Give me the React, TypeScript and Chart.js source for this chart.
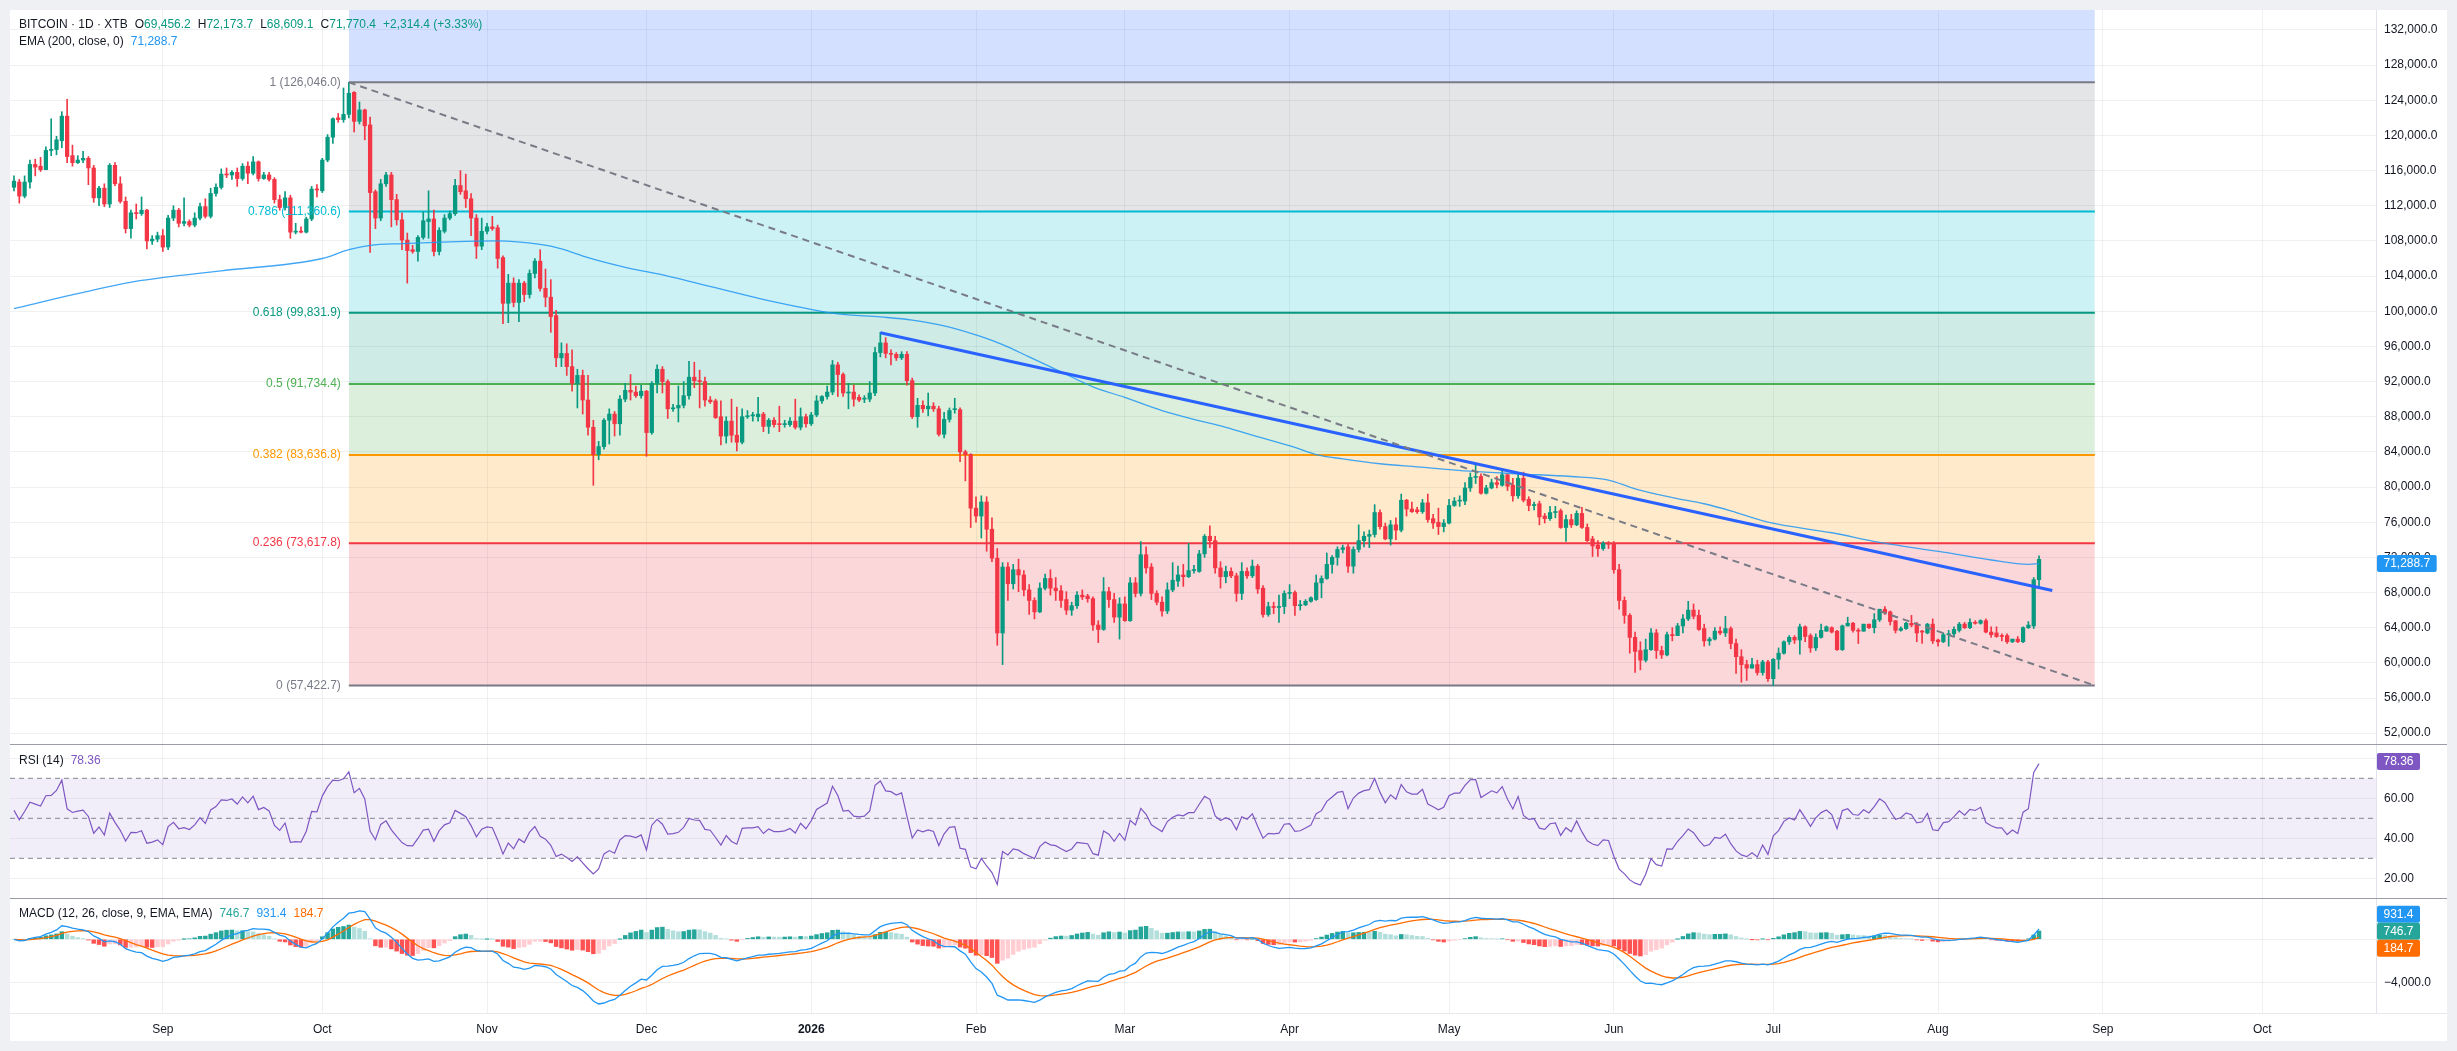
import React, { useEffect, useRef } from "react";
import { Chart, registerables } from "chart.js";

Chart.register(...registerables);

// ---------------- DATA ----------------
// Daily candles, first candle = 2025-08-04 (index 0), last = 2026-08-20 (index 381). Prices in thousands USD.
const opens = [
  114.1,114.7,113.1,114.7,116.7,116.5,116.1,118.3,118.4,119.4,
  122.2,117.7,116.9,117.2,117.4,116.3,112.9,114.0,112.2,116.6,
  114.5,112.5,109.4,111.2,111.1,111.5,108.0,108.2,108.6,107.3,
  110.6,111.5,110.0,110.2,109.8,110.6,111.9,110.8,113.4,114.1,
  115.6,115.5,115.8,115.1,116.5,115.7,117.0,115.1,115.5,115.0,
  112.7,111.8,112.9,109.0,109.1,109.0,110.5,113.9,113.7,117.2,
  119.8,122.0,121.8,122.4,124.9,121.6,122.9,121.2,113.6,110.6,
  114.5,115.5,112.7,110.4,108.1,107.0,106.8,108.4,110.2,110.5,
  106.8,109.1,110.6,111.1,114.3,113.7,112.8,110.6,107.4,109.1,
  109.6,109.5,106.1,100.9,103.2,101.0,103.2,101.9,104.3,105.7,
  102.6,101.6,99.5,94.7,95.2,93.7,91.8,92.7,89.9,86.8,
  83.7,84.6,87.6,88.3,87.2,90.0,91.0,90.8,90.4,90.9,
  86.2,91.8,93.4,92.0,88.9,89.0,89.3,90.4,92.5,92.1,
  92.0,89.9,89.8,88.0,85.8,87.5,85.9,85.1,88.0,88.1,
  88.0,88.3,86.9,87.6,87.2,87.1,87.1,87.5,86.8,88.0,
  87.2,88.2,89.8,90.3,90.8,93.9,92.8,90.7,90.8,90.2,
  90.0,90.0,90.7,95.3,96.4,95.2,95.1,94.7,95.1,92.1,
  88.0,89.3,88.9,89.2,88.9,86.0,87.7,88.8,88.8,84.0,
  83.7,77.6,76.7,78.3,75.2,71.9,63.4,70.9,69.0,70.6,
  70.0,68.3,67.1,65.8,68.5,69.6,68.5,68.2,67.2,66.0,
  66.5,67.7,67.6,67.3,64.3,63.8,68.1,67.2,65.2,66.7,
  64.8,69.1,67.9,72.3,70.9,67.9,66.9,65.9,68.3,69.3,
  70.0,69.8,70.5,70.4,72.4,74.4,73.9,70.8,69.8,70.4,
  69.9,67.9,70.4,69.9,71.0,68.5,65.5,66.4,66.3,66.4,
  67.9,68.0,66.5,66.6,67.0,67.2,69.1,69.6,71.2,72.0,
  72.9,73.2,71.0,72.9,73.9,74.4,74.6,77.1,75.5,74.1,
  75.7,75.1,78.5,77.5,77.4,77.2,78.2,76.4,76.0,75.5,
  75.9,77.9,78.4,78.4,79.9,81.1,81.2,79.3,79.9,80.5,
  80.2,81.4,80.2,79.0,81.0,78.6,77.9,78.1,76.7,76.4,
  77.1,77.3,75.4,76.3,75.7,77.0,75.4,74.1,73.4,73.0,
  73.6,73.6,70.6,67.1,65.4,62.9,61.4,60.3,61.5,63.4,
  61.4,60.9,63.2,63.1,64.2,65.0,66.0,65.4,63.9,62.5,
  62.7,63.6,63.4,63.9,62.2,60.7,59.8,59.4,59.8,58.9,
  60.1,58.2,60.4,61.1,62.4,62.9,62.6,64.1,63.1,61.7,
  62.9,63.6,64.0,63.6,61.5,64.2,64.5,63.7,63.6,64.4,
  64.0,64.9,66.1,65.8,64.8,63.7,63.9,64.5,64.4,63.6,
  63.4,64.4,62.6,62.4,63.2,63.3,63.7,64.4,64.0,64.6,
  64.5,64.8,63.5,63.4,63.1,63.1,62.4,62.7,62.4,64.0,
  64.2,69.4562,
];
const highs = [
  115.4,115.0,115.4,117.2,117.3,117.5,118.7,121.9,119.9,122.7,
  124.1,118.9,117.7,118.2,117.6,116.6,114.2,114.5,116.8,116.9,
  115.3,113.0,111.5,112.2,113.0,111.6,108.6,109.0,109.3,110.9,
  112.0,111.7,112.9,110.4,111.2,112.3,112.8,114.0,114.5,116.2,
  116.3,116.0,116.3,116.8,117.0,117.6,117.1,115.8,115.8,115.2,
  113.2,113.6,113.2,110.0,109.6,110.7,114.2,114.4,117.4,120.1,
  122.0,122.5,125.4,126.046,125.0,123.8,123.0,122.1,113.8,115.0,
  115.8,115.8,113.3,111.2,108.9,107.5,108.6,111.3,113.7,111.5,
  109.5,111.0,111.4,115.0,116.0,115.6,113.4,111.0,110.6,110.0,
  110.8,109.8,106.3,104.2,103.8,103.6,103.4,104.7,106.0,107.0,
  104.8,103.6,100.1,96.4,96.3,95.6,93.4,93.3,92.7,87.6,
  85.2,87.8,88.9,88.6,90.4,91.8,92.8,91.5,91.6,91.0,
  92.0,93.9,93.7,92.2,89.4,91.5,92.0,94.3,94.2,93.3,
  92.5,90.3,90.0,89.8,88.0,90.0,89.1,88.9,88.7,88.5,
  90.2,88.5,87.8,87.9,89.2,87.6,87.9,90.0,89.0,88.3,
  88.5,90.4,90.4,91.5,94.4,94.2,93.0,91.8,91.6,90.5,
  90.4,92.0,95.9,97.6,97.0,95.6,95.3,95.4,95.4,92.4,
  90.1,89.8,90.7,89.6,89.2,88.5,89.0,90.1,89.0,84.2,
  83.8,78.9,79.0,78.9,76.5,73.0,71.4,71.4,71.2,71.8,
  70.5,68.9,67.4,69.1,70.1,70.6,69.7,68.8,68.1,66.9,
  68.1,68.3,67.8,67.5,64.8,69.7,68.6,67.9,67.4,67.5,
  69.7,69.7,73.8,73.2,71.3,68.2,67.5,69.1,71.4,71.0,
  71.2,73.6,71.1,72.8,74.6,75.6,74.4,71.5,71.0,70.8,
  70.2,71.4,70.8,71.7,71.2,68.8,66.9,66.9,67.7,68.2,
  68.9,68.2,67.1,67.2,67.5,70.0,69.9,72.5,72.2,73.2,
  73.4,73.5,73.2,75.7,74.9,75.1,78.0,77.4,75.9,76.2,
  76.5,79.2,78.6,78.3,77.7,78.6,79.2,76.9,77.6,76.3,
  78.6,78.8,79.0,80.5,81.6,82.5,81.5,80.2,80.9,81.2,
  82.1,81.5,81.0,81.6,81.7,78.9,78.3,78.4,77.0,77.8,
  77.8,77.5,76.8,76.9,77.3,77.7,75.8,74.4,73.9,73.8,
  73.8,73.8,71.2,67.5,65.6,63.5,62.4,62.7,63.9,63.8,
  61.9,63.5,64.0,64.5,65.5,67.0,66.7,66.0,64.4,62.9,
  64.0,64.1,65.3,64.1,62.7,61.5,60.3,60.5,60.3,60.3,
  60.3,60.5,61.7,62.5,63.1,63.1,64.4,64.2,63.3,63.3,
  64.4,64.2,64.1,63.7,64.3,65.2,64.6,63.9,64.4,64.4,
  65.6,66.1,66.4,65.9,64.8,64.1,64.6,65.4,64.6,63.7,
  64.5,65.0,62.7,63.4,63.7,64.1,64.6,64.6,65.0,64.8,
  64.9,65.0,64.1,64.1,63.3,63.3,62.7,63.0,64.1,64.7,
  69.7,72.1737,
];
const lows = [
  113.7,112.3,112.9,114.0,115.4,115.9,116.1,117.7,117.8,118.6,
  116.9,116.5,116.8,116.9,114.4,112.4,112.0,111.9,111.8,114.3,
  112.3,108.9,108.3,110.5,110.9,107.1,107.6,107.9,106.8,107.0,
  110.3,109.6,109.7,109.6,109.6,110.4,110.6,110.6,113.1,113.9,
  115.2,115.0,114.2,114.9,114.5,115.5,114.8,115.0,114.8,112.3,
  111.5,111.5,108.3,108.8,108.9,108.9,110.3,113.0,113.5,117.0,
  119.1,121.5,121.5,122.0,120.4,121.3,119.5,106.7,109.4,110.3,
  114.2,109.6,109.8,107.0,103.2,106.6,105.7,108.2,108.3,106.3,
  106.4,108.9,110.4,110.9,113.3,111.8,108.6,106.0,107.0,108.8,
  109.2,104.9,98.6,98.7,100.5,98.8,101.1,101.5,103.8,102.3,
  100.5,97.6,93.7,93.7,92.7,90.9,89.0,88.3,85.9,80.2,
  83.1,84.3,84.9,85.8,85.9,89.7,89.9,90.2,90.1,83.5,
  86.0,90.7,90.7,87.8,88.6,87.4,89.0,90.0,91.3,89.0,
  89.2,89.5,87.8,84.8,85.0,85.1,84.1,84.9,87.8,87.5,
  87.5,86.3,86.1,86.8,86.3,86.8,86.9,86.6,86.5,86.8,
  87.0,88.0,89.5,90.0,90.5,90.3,90.3,88.9,89.2,89.7,
  89.6,89.7,90.4,94.8,94.7,93.9,94.4,94.5,91.6,87.8,
  86.8,88.5,88.1,88.6,85.8,85.6,87.4,88.4,82.9,80.7,
  75.4,76.0,74.2,72.7,71.5,62.0,59.8,67.1,68.4,68.1,
  67.6,65.5,65.0,65.7,68.3,67.7,67.1,66.3,65.5,65.4,
  66.2,67.2,66.9,63.7,62.3,63.7,66.3,64.6,62.7,64.7,
  64.7,67.5,67.6,70.2,67.2,66.6,65.3,65.6,68.1,68.7,
  68.7,69.7,70.2,70.3,72.0,73.1,70.2,68.5,69.1,69.7,
  67.0,67.2,69.6,69.7,67.9,65.2,65.3,65.6,64.6,65.6,
  67.3,65.4,66.0,66.5,66.9,67.1,67.4,69.5,70.2,71.1,
  72.5,70.3,70.2,72.6,73.2,73.1,74.3,75.2,74.0,73.4,
  74.0,74.9,76.7,77.1,77.0,77.0,76.0,75.3,74.6,74.9,
  75.8,77.8,77.8,78.0,79.5,80.4,79.2,79.2,79.8,79.9,
  80.1,79.6,78.4,78.7,78.3,77.3,77.4,75.7,75.9,76.2,
  76.5,75.3,73.8,75.4,75.6,75.3,73.8,72.1,72.1,72.8,
  73.0,70.2,66.1,64.5,61.1,58.9,59.2,60.1,61.4,60.5,
  60.5,60.8,62.5,63.1,63.4,64.8,65.0,63.7,61.9,62.0,
  62.6,63.2,63.0,61.6,58.8,57.8,58.0,59.4,58.6,58.6,
  57.9,57.4,59.3,61.0,62.1,62.2,61.0,62.4,61.2,61.4,
  62.8,63.6,63.4,61.4,61.4,64.2,63.5,62.2,63.6,63.9,
  63.4,64.7,65.5,64.3,63.4,63.6,63.8,64.1,62.4,62.2,
  63.3,62.2,61.9,62.3,61.9,63.0,63.5,63.9,63.9,64.4,
  64.4,63.4,62.9,62.9,62.5,62.2,62.3,62.3,62.3,63.9,
  63.9,68.6091,
];
const closes = [
  114.8,113.1,114.7,116.7,116.4,116.1,118.3,118.4,119.5,122.2,
  117.6,116.9,117.2,117.4,116.3,112.9,114.0,112.2,116.6,114.5,
  112.5,109.4,111.2,111.1,111.5,108.0,108.2,108.6,107.3,110.6,
  111.5,110.0,110.2,109.8,110.6,111.9,110.8,113.4,114.1,115.6,
  115.5,115.8,115.1,116.5,115.7,117.0,115.1,115.5,115.0,112.7,
  111.8,112.9,109.0,109.1,109.0,110.5,113.9,113.8,117.2,119.8,
  121.9,121.8,122.4,124.8,121.6,122.9,121.1,113.5,110.6,114.5,
  115.5,112.7,110.4,108.1,106.9,106.8,108.4,110.3,110.5,106.8,
  109.2,110.6,111.1,114.3,113.6,112.8,110.6,107.4,109.1,109.6,
  109.4,106.0,100.9,103.2,101.0,103.2,101.9,104.3,105.7,102.6,
  101.6,99.4,94.7,95.2,93.7,91.8,92.7,89.9,86.8,83.7,
  84.6,87.6,88.3,87.2,90.0,91.0,90.8,90.4,90.9,86.2,
  91.8,93.4,92.0,88.9,89.0,89.3,90.4,92.5,92.1,92.0,
  89.9,89.7,87.9,85.8,87.5,85.9,85.1,88.0,88.1,88.1,
  88.3,86.9,87.6,87.1,87.1,87.2,87.5,86.8,88.0,87.2,
  88.2,89.8,90.3,90.8,93.9,92.8,90.7,90.8,90.0,89.9,
  90.0,90.7,95.3,96.4,95.2,95.1,94.7,95.1,92.1,88.0,
  89.3,88.9,89.2,88.9,86.0,87.7,88.7,88.8,84.0,83.7,
  77.6,76.7,78.3,75.2,71.9,63.4,70.9,69.0,70.6,70.0,
  68.3,67.1,65.8,68.5,69.6,68.5,68.2,67.1,66.0,66.5,
  67.7,67.5,67.3,64.3,63.8,68.1,67.2,65.2,66.7,64.8,
  69.1,67.9,72.3,70.8,67.9,66.9,65.9,68.3,69.4,70.0,
  69.8,70.5,70.5,72.4,74.4,73.9,70.8,69.8,70.4,69.9,
  67.9,70.4,69.9,71.0,68.4,65.5,66.4,66.3,66.4,67.9,
  68.0,66.5,66.6,67.0,67.4,69.1,69.6,71.2,72.0,72.9,
  73.1,71.0,72.9,73.9,74.4,74.6,77.1,75.5,74.1,75.7,
  75.1,78.5,77.5,77.2,77.2,78.2,76.3,75.9,75.5,75.9,
  77.9,78.4,78.4,79.9,81.1,81.2,79.3,79.9,80.5,80.3,
  81.4,80.1,79.0,81.0,78.5,77.9,78.0,76.6,76.4,77.1,
  77.2,75.4,76.3,75.7,77.0,75.4,73.9,73.3,73.0,73.6,
  73.5,70.6,67.1,65.4,62.9,61.3,60.3,61.5,63.4,61.4,
  60.9,63.2,63.1,64.2,65.0,66.0,65.3,63.8,62.5,62.7,
  63.6,63.4,63.9,62.2,60.7,59.8,59.4,59.8,58.9,60.1,
  58.2,60.4,61.1,62.4,62.9,62.6,64.1,63.0,61.7,62.9,
  63.7,64.1,63.5,61.5,64.2,64.5,63.7,63.6,64.4,64.0,
  64.9,66.1,65.7,64.7,63.7,63.9,64.5,64.3,63.4,63.5,
  64.4,62.5,62.4,63.2,63.3,63.8,64.4,64.0,64.6,64.5,
  64.8,63.5,63.2,63.0,63.0,62.4,62.7,62.4,64.0,64.3,
  69.456,71.7704,
];

// EMA(200) at sample candles (thousands USD)
const emaIdx = [0, 12, 24, 39, 58, 63, 67, 73, 82, 91, 99, 103, 108, 115, 123, 142, 155, 163, 169, 176, 182, 186, 191, 197, 203, 209, 216, 222, 228, 233, 241, 245, 250, 257, 264, 274, 283, 293, 300, 305, 312, 318, 323, 330, 342, 351, 363, 372, 379, 381];
const emaVals = [100.3, 102.0, 103.5, 104.6, 106.0, 107.0, 107.5, 107.7, 107.9, 108.0, 107.6, 107.1, 106.1, 105.0, 104.0, 101.2, 99.7, 99.35, 99.0, 98.2, 97.1, 96.2, 94.8, 93.1, 91.4, 90.2, 88.7, 87.7, 86.8, 85.9, 84.5, 83.7, 83.2, 82.65, 82.3, 81.8, 81.5, 81.2, 80.8, 79.8, 78.8, 78.1, 77.3, 76.0, 74.8, 73.7, 72.6, 71.7, 71.2, 71.2887];

// Time axis labels (month starts, candle index)
const monthTickIdx = [28, 58, 89, 119, 150, 181, 209, 240, 270, 301, 331, 362, 393, 423];
const monthTickLabels = ["Sep", "Oct", "Nov", "Dec", "2026", "Feb", "Mar", "Apr", "May", "Jun", "Jul", "Aug", "Sep", "Oct"];
const yearTickIdx = 150;

// Fibonacci retracement drawing
const fibLevels = ["1", "0.786", "0.618", "0.5", "0.382", "0.236", "0"];
const fibPrices = [126046.0, 111360.6, 99831.9, 91734.4, 83636.8, 73617.8, 57422.7];
const fibSpanIdx = [63, 391.5];

// Blue trend line
const trendIdx = [163, 383.5];
const trendVals = [97550, 68236];

// Axis ticks
const priceTicks = [52000, 56000, 60000, 64000, 68000, 72000, 76000, 80000, 84000, 88000, 92000, 96000, 100000, 104000, 108000, 112000, 116000, 120000, 124000, 128000, 132000];
const rsiTicks = [20, 40, 60, 80];
const rsiLevels = [70, 30, 50];
const macdTicks = [-4000, 0];

// Indicator readouts shown in the legends
const rsiLast = 78.36;
const macdLast = { hist: 746.7, macd: 931.4, signal: 184.7 };

// ---------------- STYLE ----------------
const K = 1000;
const FONT = "'Liberation Sans', Arial, sans-serif";
const TEXT = "#131722";
const GRID = "rgba(42,46,57,0.07)";
const UP = "#089981";
const DOWN = "#f23645";
const FIB_COLORS = ["#787b86", "#00bcd4", "#089981", "#4caf50", "#ff9800", "#f23645", "#787b86"];
const FIB_TOP_FILL = "rgba(41,98,255,0.2)";
const X_MIN = -0.75;
const X_MAX = 444.4;
const AXIS_W = 71;

Chart.defaults.font.family = FONT;
Chart.defaults.font.size = 12;
Chart.defaults.color = TEXT;

function rgba(hex: string, a: number) {
  const n = parseInt(hex.slice(1), 16);
  return `rgba(${(n >> 16) & 255},${(n >> 8) & 255},${n & 255},${a})`;
}

function fmt(v: number) {
  const s = Math.abs(v).toLocaleString("en-US", { minimumFractionDigits: 1, maximumFractionDigits: 1 });
  return (v < 0 ? "\u2212" : "") + s;
}

// ---------------- INDICATORS (derived from the candles) ----------------
function emaSeries(src: number[], len: number) {
  const a = 2 / (len + 1);
  const out: number[] = [];
  let e = src[0];
  for (let i = 0; i < src.length; i++) {
    e = i === 0 ? src[0] : a * src[i] + (1 - a) * e;
    out.push(e);
  }
  return out;
}

function rsiSeries(src: number[], len: number) {
  const ch = src.map((v, i) => (i === 0 ? 0 : v - src[i - 1]));
  let up = 0;
  let dn = 0;
  for (let i = 1; i <= len; i++) {
    up += Math.max(ch[i], 0);
    dn += Math.max(-ch[i], 0);
  }
  up /= len;
  dn /= len;
  const out: { x: number; y: number }[] = [];
  for (let i = 0; i < src.length; i++) {
    if (i > 0) {
      up = (up * (len - 1) + Math.max(ch[i], 0)) / len;
      dn = (dn * (len - 1) + Math.max(-ch[i], 0)) / len;
    }
    out.push({ x: i, y: dn === 0 ? 100 : 100 - 100 / (1 + up / dn) });
  }
  return out;
}

const closeUsd = closes.map((c) => c * K);
const ema12 = emaSeries(closeUsd, 12);
const ema26 = emaSeries(closeUsd, 26);
const macdLine = ema12.map((v, i) => v - ema26[i]);
const signalLine = emaSeries(macdLine, 9);
const histLine = macdLine.map((v, i) => v - signalLine[i]);
const rsiLine = rsiSeries(closeUsd, 14);

// ---------------- HELPERS ----------------
function makeX(showLabels: boolean): any {
  return {
    type: "linear",
    min: X_MIN,
    max: X_MAX,
    offset: false,
    afterBuildTicks: (s: any) => {
      s.ticks = monthTickIdx.map((v) => ({ value: v }));
    },
    afterFit: (s: any) => {
      s.height = showLabels ? 28 : 0;
      s.paddingLeft = 0;
      s.paddingRight = 0;
    },
    grid: { color: GRID, drawTicks: false, offset: false },
    border: { display: false },
    ticks: showLabels
      ? {
          display: true,
          padding: 9,
          color: TEXT,
          maxRotation: 0,
          autoSkip: false,
          font: (ctx: any) => ({
            family: FONT,
            size: 12,
            weight: ctx.tick && ctx.tick.value === yearTickIdx ? "bold" : "normal",
          }),
          callback: (v: any) => {
            const k = monthTickIdx.indexOf(Number(v));
            return k >= 0 ? monthTickLabels[k] : "";
          },
        }
      : { display: false },
  };
}

function makeY(min: number, max: number, ticks: number[], label: (v: number) => string): any {
  return {
    type: "linear",
    position: "right",
    min,
    max,
    afterBuildTicks: (s: any) => {
      s.ticks = ticks.map((v) => ({ value: v }));
    },
    afterFit: (s: any) => {
      s.width = AXIS_W;
      s.paddingTop = 0;
      s.paddingBottom = 0;
    },
    grid: { color: GRID, drawTicks: false },
    border: { display: true, color: "#e0e3eb" },
    ticks: { padding: 8, color: TEXT, font: { family: FONT, size: 12 }, callback: (v: any) => label(Number(v)) },
  };
}

type Badge = { value: number; text: string; color: string; dy?: number };

function badgePlugin(items: Badge[]): any {
  return {
    id: "badges",
    afterDraw(chart: any) {
      const ctx = chart.ctx;
      const y = chart.scales.y;
      const x0 = chart.chartArea.right + 1;
      ctx.save();
      ctx.font = `12px ${FONT}`;
      ctx.textBaseline = "middle";
      ctx.textAlign = "left";
      for (const b of items) {
        const py = y.getPixelForValue(b.value) + (b.dy || 0);
        const w = ctx.measureText(b.text).width + 13;
        const h = 17;
        ctx.fillStyle = b.color;
        ctx.beginPath();
        if ((ctx as any).roundRect) (ctx as any).roundRect(x0, py - h / 2, w, h, 2);
        else ctx.rect(x0, py - h / 2, w, h);
        ctx.fill();
        ctx.fillStyle = "#ffffff";
        ctx.fillText(b.text, x0 + 6.5, py + 0.5);
      }
      ctx.restore();
    },
  };
}

const fibLabelPlugin: any = {
  id: "fibLabels",
  afterDatasetsDraw(chart: any) {
    const ctx = chart.ctx;
    const xs = chart.scales.x;
    const ys = chart.scales.y;
    const x = xs.getPixelForValue(fibSpanIdx[0]) - 8;
    ctx.save();
    ctx.font = `12px ${FONT}`;
    ctx.textAlign = "right";
    ctx.textBaseline = "middle";
    fibPrices.forEach((p, k) => {
      ctx.fillStyle = FIB_COLORS[k];
      ctx.fillText(`${fibLevels[k]} (${fmt(p)})`, x, ys.getPixelForValue(p));
    });
    ctx.restore();
  },
};

const baseOptions = {
  responsive: false,
  maintainAspectRatio: false,
  animation: false,
  events: [],
  layout: { padding: 0, autoPadding: false },
  plugins: { legend: { display: false }, tooltip: { enabled: false } },
};

// ---------------- COMPONENT ----------------
export default function App() {
  const priceRef = useRef<HTMLCanvasElement | null>(null);
  const rsiRef = useRef<HTMLCanvasElement | null>(null);
  const macdRef = useRef<HTMLCanvasElement | null>(null);

  useEffect(() => {
    const charts: Chart[] = [];
    const candleColors = closes.map((c, i) => (c >= opens[i] ? UP : DOWN));

    const fibDatasets = fibPrices.map((p, k) => ({
      type: "line",
      data: [
        { x: fibSpanIdx[0], y: p },
        { x: fibSpanIdx[1], y: p },
      ],
      borderColor: FIB_COLORS[k],
      borderWidth: 2,
      pointRadius: 0,
      fill: k === 0 ? "end" : "-1",
      backgroundColor: k === 0 ? FIB_TOP_FILL : rgba(FIB_COLORS[k - 1], 0.2),
      order: 20,
    }));

    if (priceRef.current) {
      charts.push(
        new Chart(priceRef.current, {
          type: "line",
          data: {
            datasets: [
              ...fibDatasets,
              {
                type: "line",
                data: [
                  { x: fibSpanIdx[0], y: fibPrices[0] },
                  { x: fibSpanIdx[1], y: fibPrices[fibPrices.length - 1] },
                ],
                borderColor: "#787b86",
                borderWidth: 2,
                borderDash: [7, 5],
                pointRadius: 0,
                fill: false,
                order: 1,
              },
              {
                type: "bar",
                data: lows.map((l, i) => ({ x: i, y: [l * K, highs[i] * K] })),
                backgroundColor: candleColors,
                barThickness: 1,
                grouped: false,
                borderWidth: 0,
                order: 6,
              },
              {
                type: "bar",
                data: opens.map((o, i) => ({ x: i, y: [o * K, closes[i] * K] })),
                backgroundColor: candleColors,
                barThickness: 3.6,
                minBarLength: 1,
                grouped: false,
                borderWidth: 0,
                order: 5,
              },
              {
                type: "line",
                data: emaIdx.map((x, i) => ({ x, y: emaVals[i] * K })),
                borderColor: "rgba(33,150,243,0.85)",
                borderWidth: 1.3,
                pointRadius: 0,
                cubicInterpolationMode: "monotone",
                fill: false,
                order: 3,
              },
              {
                type: "line",
                data: trendIdx.map((x, i) => ({ x, y: trendVals[i] })),
                borderColor: "#2962ff",
                borderWidth: 3,
                pointRadius: 0,
                fill: false,
                order: 1,
              },
            ] as any,
          },
          options: {
            ...baseOptions,
            scales: {
              x: makeX(false),
              y: makeY(50654, 134271, priceTicks, (v) => fmt(v)),
            },
          } as any,
          plugins: [
            fibLabelPlugin,
            badgePlugin([
              { value: emaVals[emaVals.length - 1] * K, text: fmt(emaVals[emaVals.length - 1] * K), color: "#2196f3" },
            ]),
          ],
        })
      );
    }

    if (rsiRef.current) {
      const levelDs = rsiLevels.map((lv, k) => ({
        type: "line",
        data: [
          { x: X_MIN, y: lv },
          { x: X_MAX, y: lv },
        ],
        borderColor: "rgba(120,123,134,0.9)",
        borderWidth: 1,
        borderDash: [5, 4],
        pointRadius: 0,
        fill: k === 0 ? "+1" : false,
        backgroundColor: "rgba(126,87,194,0.1)",
        order: 10,
      }));
      charts.push(
        new Chart(rsiRef.current, {
          type: "line",
          data: {
            datasets: [
              ...levelDs,
              {
                type: "line",
                data: rsiLine,
                borderColor: "#7e57c2",
                borderWidth: 1.2,
                pointRadius: 0,
                fill: false,
                order: 1,
              },
            ] as any,
          },
          options: {
            ...baseOptions,
            scales: {
              x: makeX(false),
              y: makeY(9.65, 86.65, rsiTicks, (v) => (v === 80 ? "" : v.toFixed(2))),
            },
          } as any,
          plugins: [badgePlugin([{ value: rsiLast, text: rsiLast.toFixed(2), color: "#7e57c2" }])],
        })
      );
    }

    if (macdRef.current) {
      const histColors = histLine.map((h, i) => {
        const prev = i > 0 ? histLine[i - 1] : 0;
        if (h >= 0) return prev < h ? "#26a69a" : "#b2dfdb";
        return prev < h ? "#ffcdd2" : "#ff5252";
      });
      charts.push(
        new Chart(macdRef.current, {
          type: "line",
          data: {
            datasets: [
              {
                type: "bar",
                data: histLine.map((h, i) => ({ x: i, y: h })),
                backgroundColor: histColors,
                barThickness: 3.8,
                grouped: false,
                borderWidth: 0,
                order: 5,
              },
              {
                type: "line",
                data: signalLine.map((v, i) => ({ x: i, y: v })),
                borderColor: "#ff6d00",
                borderWidth: 1.3,
                pointRadius: 0,
                fill: false,
                order: 2,
              },
              {
                type: "line",
                data: macdLine.map((v, i) => ({ x: i, y: v })),
                borderColor: "#2196f3",
                borderWidth: 1.3,
                pointRadius: 0,
                fill: false,
                order: 1,
              },
            ] as any,
          },
          options: {
            ...baseOptions,
            scales: {
              x: makeX(true),
              y: makeY(-6793, 3714, macdTicks, (v) => (v === 0 ? "" : fmt(v))),
            },
          } as any,
          plugins: [
            badgePlugin([
              { value: macdLast.hist, text: fmt(macdLast.macd), color: "#2196f3", dy: -17 },
              { value: macdLast.hist, text: fmt(macdLast.hist), color: "#26a69a" },
              { value: macdLast.hist, text: fmt(macdLast.signal), color: "#ff6d00", dy: 17 },
            ]),
          ],
        })
      );
    }

    return () => {
      charts.forEach((c) => c.destroy());
    };
  }, []);

  const last = closes.length - 1;
  const chg = (closes[last] - closes[last - 1]) * K;
  const pct = (chg / (closes[last - 1] * K)) * 100;
  const legendBase: React.CSSProperties = {
    position: "absolute",
    left: 19,
    font: `12px ${FONT}`,
    color: TEXT,
    lineHeight: "17px",
    whiteSpace: "nowrap",
  };
  const gap = { marginLeft: 7 };

  return (
    <div style={{ position: "fixed", left: 0, top: 0, width: 2457, height: 1051, background: "#eef0f4", overflow: "hidden" }}>
      <div style={{ position: "absolute", left: 10, top: 10, width: 2437, height: 1031, background: "#ffffff" }} />
      <canvas ref={priceRef} width={2437} height={735} style={{ position: "absolute", left: 10, top: 10, display: "block" }} />
      <canvas ref={rsiRef} width={2437} height={154} style={{ position: "absolute", left: 10, top: 745, display: "block" }} />
      <canvas ref={macdRef} width={2437} height={142} style={{ position: "absolute", left: 10, top: 899, display: "block" }} />
      <div style={{ position: "absolute", left: 10, top: 744, width: 2437, height: 1, background: "#9a9da6" }} />
      <div style={{ position: "absolute", left: 10, top: 898, width: 2437, height: 1, background: "#9a9da6" }} />
      <div style={{ position: "absolute", left: 10, top: 1013, width: 2437, height: 1, background: "#e6e8ee" }} />

      <div style={{ ...legendBase, top: 16 }}>
        <span>BITCOIN · 1D · XTB</span>
        <span style={gap}>O</span>
        <span style={{ color: UP }}>{fmt(opens[last] * K)}</span>
        <span style={gap}>H</span>
        <span style={{ color: UP }}>{fmt(highs[last] * K)}</span>
        <span style={gap}>L</span>
        <span style={{ color: UP }}>{fmt(lows[last] * K)}</span>
        <span style={gap}>C</span>
        <span style={{ color: UP }}>{fmt(closes[last] * K)}</span>
        <span style={{ ...gap, color: UP }}>
          +{fmt(chg)} (+{pct.toFixed(2)}%)
        </span>
      </div>
      <div style={{ ...legendBase, top: 33 }}>
        <span>EMA (200, close, 0)</span>
        <span style={{ ...gap, color: "#2196f3" }}>{fmt(emaVals[emaVals.length - 1] * K)}</span>
      </div>
      <div style={{ ...legendBase, top: 752 }}>
        <span>RSI (14)</span>
        <span style={{ ...gap, color: "#7e57c2" }}>{rsiLast.toFixed(2)}</span>
      </div>
      <div style={{ ...legendBase, top: 905 }}>
        <span>MACD (12, 26, close, 9, EMA, EMA)</span>
        <span style={{ ...gap, color: "#26a69a" }}>{fmt(macdLast.hist)}</span>
        <span style={{ ...gap, color: "#2196f3" }}>{fmt(macdLast.macd)}</span>
        <span style={{ ...gap, color: "#ff6d00" }}>{fmt(macdLast.signal)}</span>
      </div>
    </div>
  );
}
